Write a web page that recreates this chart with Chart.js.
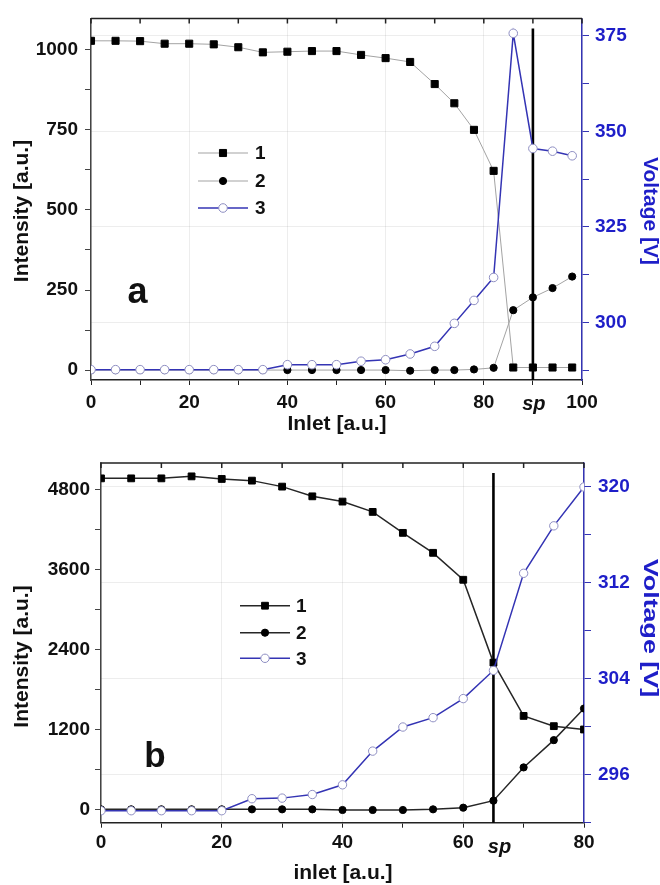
<!DOCTYPE html>
<html>
<head>
<meta charset="utf-8">
<title>Intensity and voltage vs inlet</title>
<script src="https://cdn.jsdelivr.net/npm/chart.js@4.4.0/dist/chart.umd.min.js"></script>
<style>
html,body{margin:0;padding:0;background:#fff;}
#wrap{position:relative;width:660px;height:885px;}
canvas{position:absolute;left:0;}
#chartA{top:0;}
#chartB{top:440px;}
</style>
</head>
<body>
<div id="wrap">
<canvas id="chartA" width="660" height="440"></canvas>
<canvas id="chartB" width="660" height="445"></canvas>
</div>
<script>
/* ==========================================
   PANEL A DATA
========================================== */

const INLET_A = [0,5,10,15,20,25,30,35,40,45,50,55,60,65,70,74,78,82,86,90,94,98];

const INTENSITY1_A = [1028,1028,1027,1019,1019,1017,1008,992,994,996,996,984,974,962,893,833,750,622,8,8,8,8];

const INTENSITY2_A = [0,0,0,0,0,0,0,0,0,0,0,0,0,-2,0,0,2,7,187,227,256,292];

const VOLTAGE_A = [287.7,287.7,287.7,287.7,287.7,287.7,287.7,287.7,289.0,289.0,289.0,289.9,290.3,291.8,293.8,299.8,305.8,311.8,375.6,345.5,344.8,343.6];

const SP_A = 90;

const INLET_TICKS_A = [0,20,40,60,80,100];
const INTENSITY_TICKS_A = [0,250,500,750,1000];
const VOLTAGE_TICKS_A = [300,325,350,375];


/* ==========================================
   PANEL B DATA
========================================== */

const INLET_B = [0,5,10,15,20,25,30,35,40,45,50,55,60,65,70,75,80];

const INTENSITY1_B = [4974,4974,4974,5004,4965,4940,4850,4704,4625,4470,4155,3855,3450,2205,1404,1250,1200];

const INTENSITY2_B = [0,0,0,0,0,0,0,0,-10,-10,-10,0,25,130,630,1040,1515];

const VOLTAGE_B = [293.0,293.0,293.0,293.0,293.0,294.0,294.05,294.35,295.16,297.97,299.98,300.76,302.35,304.7,312.8,316.76,320.0];

const SP_B = 65;

const INLET_TICKS_B = [0,20,40,60,80];
const INTENSITY_TICKS_B = [0,1200,2400,3600,4800];
const VOLTAGE_TICKS_B = [296,304,312,320];

const SERIES_NAMES = ["1","2","3"];


/* ==========================================
   STYLE
========================================== */

const FONT = "'Liberation Sans', Arial, sans-serif";
const BLUE_LINE = "#3434b4";
const BLUE_TEXT = "#1e1ec8";
const OPEN_RING = "#8e8ec2";
const GRID = "rgba(0,0,0,0.07)";

Chart.defaults.font.family = FONT;

const PANEL_A = {
    canvas:"chartA", top:15, leftWidth:91, rightWidth:78, bottomHeight:60,
    x:{min:0,max:100,labels:INLET_TICKS_A},
    y:{min:-31,max:1098,labels:INTENSITY_TICKS_A},
    y1:{min:285,max:379.5,labels:VOLTAGE_TICKS_A},
    lineColor:"#a3a3a3", lineWidth:1,
    squareR:5, dotR:3.6, ringR:4.3,
    leftPad:7, rightPad:6, bottomPad:6,
    letter:"a", letterX:137.5, letterY:303, letterSize:36,
    legendX0:198, legendX1:248, legendTextX:255, legendY:[153,181,208],
    sp:SP_A, spDx:1, spBaseline:410,
    xTitle:"Inlet [a.u.]",
    titleLeft:[22,211], titleBottom:[337,424], titleRight:[650,211], rightStretch:1
};

const PANEL_B = {
    canvas:"chartB", top:23, leftWidth:101, rightWidth:76, bottomHeight:62.3,
    x:{min:0,max:80,labels:INLET_TICKS_B},
    y:{min:-201,max:5205,labels:INTENSITY_TICKS_B},
    y1:{min:292,max:322,labels:VOLTAGE_TICKS_B},
    lineColor:"#262626", lineWidth:1.5,
    squareR:4.8, dotR:3.6, ringR:4.2,
    leftPad:5, rightPad:7, bottomPad:4,
    letter:"b", letterX:155, letterY:326.5, letterSize:35,
    legendX0:240, legendX1:290, legendTextX:296, legendY:[165.7,192.7,218.3],
    sp:SP_B, spDx:6, spBaseline:413,
    xTitle:"inlet [a.u.]",
    titleLeft:[22.5,216.5], titleBottom:[343,433], titleRight:[650,188], rightStretch:1.28
};


/* ==========================================
   HELPERS
========================================== */

function pairs(xs, ys){

    return xs.map((x,i)=>({x, y:ys[i]}));

}

// major tick values plus one minor tick half way between them
function tickValues(axis){

    const majors = axis.labels;
    const half = (majors[1] - majors[0]) / 2;
    const values = [];

    if(majors[0] - half >= axis.min) values.push(majors[0] - half);

    majors.forEach((m,i)=>{
        values.push(m);
        if(i < majors.length - 1 || m + half <= axis.max) values.push(m + half);
    });

    return values.filter(v => v >= axis.min && v <= axis.max);

}

function majorOnly(list){

    return value => list.includes(value) ? value : "";

}

function drawMarker(ctx, style, r, fill, stroke, x, y){

    ctx.save();
    ctx.fillStyle = fill;
    ctx.strokeStyle = stroke;
    ctx.lineWidth = 1;
    ctx.beginPath();

    if(style === "rect"){
        const s = r * Math.SQRT1_2;
        ctx.rect(x - s, y - s, 2 * s, 2 * s);
    }else{
        ctx.arc(x, y, r, 0, Math.PI * 2);
    }

    ctx.fill();
    ctx.stroke();
    ctx.restore();

}

function drawText(ctx, text, x, y, font, color, angle, stretch){

    ctx.save();
    ctx.translate(x, y);
    ctx.rotate(angle || 0);
    ctx.scale(stretch || 1, 1);
    ctx.font = font;
    ctx.fillStyle = color;
    ctx.textAlign = "center";
    ctx.textBaseline = "middle";
    ctx.fillText(text, 0, 0);
    ctx.restore();

}


/* ==========================================
   DECORATION PLUGIN
========================================== */

function panelDecor(p){

    return {

        id:"panelDecor",

        beforeDatasetsDraw(chart){

            const {ctx, chartArea:a, scales} = chart;
            const x = scales.x.getPixelForValue(p.sp);

            ctx.save();
            ctx.strokeStyle = "#000";
            ctx.lineWidth = 2.6;
            ctx.beginPath();
            ctx.moveTo(x, a.top + 10);
            ctx.lineTo(x, a.bottom);
            ctx.stroke();
            ctx.restore();

        },

        afterDraw(chart){

            const {ctx, chartArea:a, scales} = chart;

            // top frame with inward ticks
            ctx.save();
            ctx.strokeStyle = "#222";
            ctx.lineWidth = 1.5;
            ctx.beginPath();
            ctx.moveTo(a.left, a.top);
            ctx.lineTo(a.right, a.top);
            scales.x.ticks.forEach(t=>{
                const tx = scales.x.getPixelForValue(t.value);
                ctx.moveTo(tx, a.top);
                ctx.lineTo(tx, a.top + 5);
            });
            ctx.stroke();
            ctx.restore();

            // sp label under the axis
            ctx.save();
            ctx.font = "italic bold 20px " + FONT;
            ctx.fillStyle = "#111";
            ctx.textAlign = "center";
            ctx.textBaseline = "alphabetic";
            ctx.fillText("sp", scales.x.getPixelForValue(p.sp) + p.spDx, p.spBaseline);
            ctx.restore();

            // panel letter
            ctx.save();
            ctx.font = "bold " + p.letterSize + "px " + FONT;
            ctx.fillStyle = "#111";
            ctx.textAlign = "center";
            ctx.textBaseline = "alphabetic";
            ctx.fillText(p.letter, p.letterX, p.letterY);
            ctx.restore();

            // legend
            chart.data.datasets.forEach((ds,i)=>{
                const y = p.legendY[i];
                ctx.save();
                ctx.strokeStyle = ds.borderColor;
                ctx.lineWidth = ds.borderWidth;
                ctx.beginPath();
                ctx.moveTo(p.legendX0, y);
                ctx.lineTo(p.legendX1, y);
                ctx.stroke();
                ctx.restore();
                drawMarker(ctx, ds.pointStyle, ds.pointRadius, ds.pointBackgroundColor,
                    ds.pointBorderColor, (p.legendX0 + p.legendX1) / 2, y);
                ctx.save();
                ctx.font = "bold 19px " + FONT;
                ctx.fillStyle = "#111";
                ctx.textAlign = "left";
                ctx.textBaseline = "middle";
                ctx.fillText(SERIES_NAMES[i], p.legendTextX, y + 1);
                ctx.restore();
            });

            // axis titles
            const titleFont = "bold 21px " + FONT;
            drawText(ctx, "Intensity [a.u.]", p.titleLeft[0], p.titleLeft[1], titleFont, "#111", -Math.PI / 2);
            drawText(ctx, p.xTitle, p.titleBottom[0], p.titleBottom[1], titleFont, "#111", 0);
            drawText(ctx, "Voltage [V]", p.titleRight[0], p.titleRight[1], titleFont, BLUE_TEXT, Math.PI / 2, p.rightStretch);

        }

    };

}


/* ==========================================
   PANEL CHART
========================================== */

function renderPanel(p, inlet, s1, s2, s3){

    const ctx = document.getElementById(p.canvas).getContext("2d");
    const tickFont = {size:19, weight:"bold"};

    return new Chart(ctx,{

        type:"line",

        data:{
            datasets:[
                {
                    label:SERIES_NAMES[0], data:pairs(inlet, s1), yAxisID:"y", order:2,
                    borderColor:p.lineColor, borderWidth:p.lineWidth,
                    pointStyle:"rect", pointRadius:p.squareR, pointBorderWidth:1,
                    pointBackgroundColor:"#000", pointBorderColor:"#000"
                },
                {
                    label:SERIES_NAMES[1], data:pairs(inlet, s2), yAxisID:"y", order:3,
                    borderColor:p.lineColor, borderWidth:p.lineWidth,
                    pointStyle:"circle", pointRadius:p.dotR, pointBorderWidth:1,
                    pointBackgroundColor:"#000", pointBorderColor:"#000"
                },
                {
                    label:SERIES_NAMES[2], data:pairs(inlet, s3), yAxisID:"y1", order:1,
                    borderColor:BLUE_LINE, borderWidth:1.5,
                    pointStyle:"circle", pointRadius:p.ringR, pointBorderWidth:1,
                    pointBackgroundColor:"#fff", pointBorderColor:OPEN_RING
                }
            ]
        },

        options:{
            responsive:false,
            animation:false,
            layout:{padding:{top:p.top, left:0, right:0, bottom:0}},
            plugins:{
                legend:{display:false},
                tooltip:{enabled:false}
            },
            scales:{
                x:{
                    type:"linear", position:"bottom",
                    min:p.x.min, max:p.x.max,
                    afterBuildTicks:s=>{ s.ticks = tickValues(p.x).map(v=>({value:v})); },
                    afterFit:s=>{ s.height = p.bottomHeight; },
                    ticks:{
                        autoSkip:false, maxRotation:0,
                        callback:majorOnly(p.x.labels), color:"#111", font:tickFont, padding:p.bottomPad
                    },
                    grid:{
                        color:c=>c.tick && p.x.labels.includes(c.tick.value) ? GRID : "rgba(0,0,0,0)",
                        tickColor:"#222", tickLength:5
                    },
                    border:{color:"#222", width:1.5}
                },
                y:{
                    type:"linear", position:"left",
                    min:p.y.min, max:p.y.max,
                    afterBuildTicks:s=>{ s.ticks = tickValues(p.y).map(v=>({value:v})); },
                    afterFit:s=>{ s.width = p.leftWidth; },
                    ticks:{
                        autoSkip:false,
                        callback:majorOnly(p.y.labels), color:"#111", font:tickFont, padding:p.leftPad
                    },
                    grid:{drawOnChartArea:false, tickColor:"#444", tickLength:6},
                    border:{color:"#444", width:1.5}
                },
                y1:{
                    type:"linear", position:"right",
                    min:p.y1.min, max:p.y1.max,
                    afterBuildTicks:s=>{ s.ticks = tickValues(p.y1).map(v=>({value:v})); },
                    afterFit:s=>{ s.width = p.rightWidth; },
                    ticks:{
                        autoSkip:false,
                        callback:majorOnly(p.y1.labels), color:BLUE_TEXT, font:tickFont, padding:p.rightPad
                    },
                    grid:{
                        color:c=>c.tick && p.y1.labels.includes(c.tick.value) ? GRID : "rgba(0,0,0,0)",
                        tickColor:BLUE_LINE, tickLength:7
                    },
                    border:{color:BLUE_LINE, width:1.5}
                }
            }
        },

        plugins:[panelDecor(p)]

    });

}


/* ==========================================
   INITIALIZE
========================================== */

renderPanel(PANEL_A, INLET_A, INTENSITY1_A, INTENSITY2_A, VOLTAGE_A);

renderPanel(PANEL_B, INLET_B, INTENSITY1_B, INTENSITY2_B, VOLTAGE_B);
</script>
</body>
</html>
